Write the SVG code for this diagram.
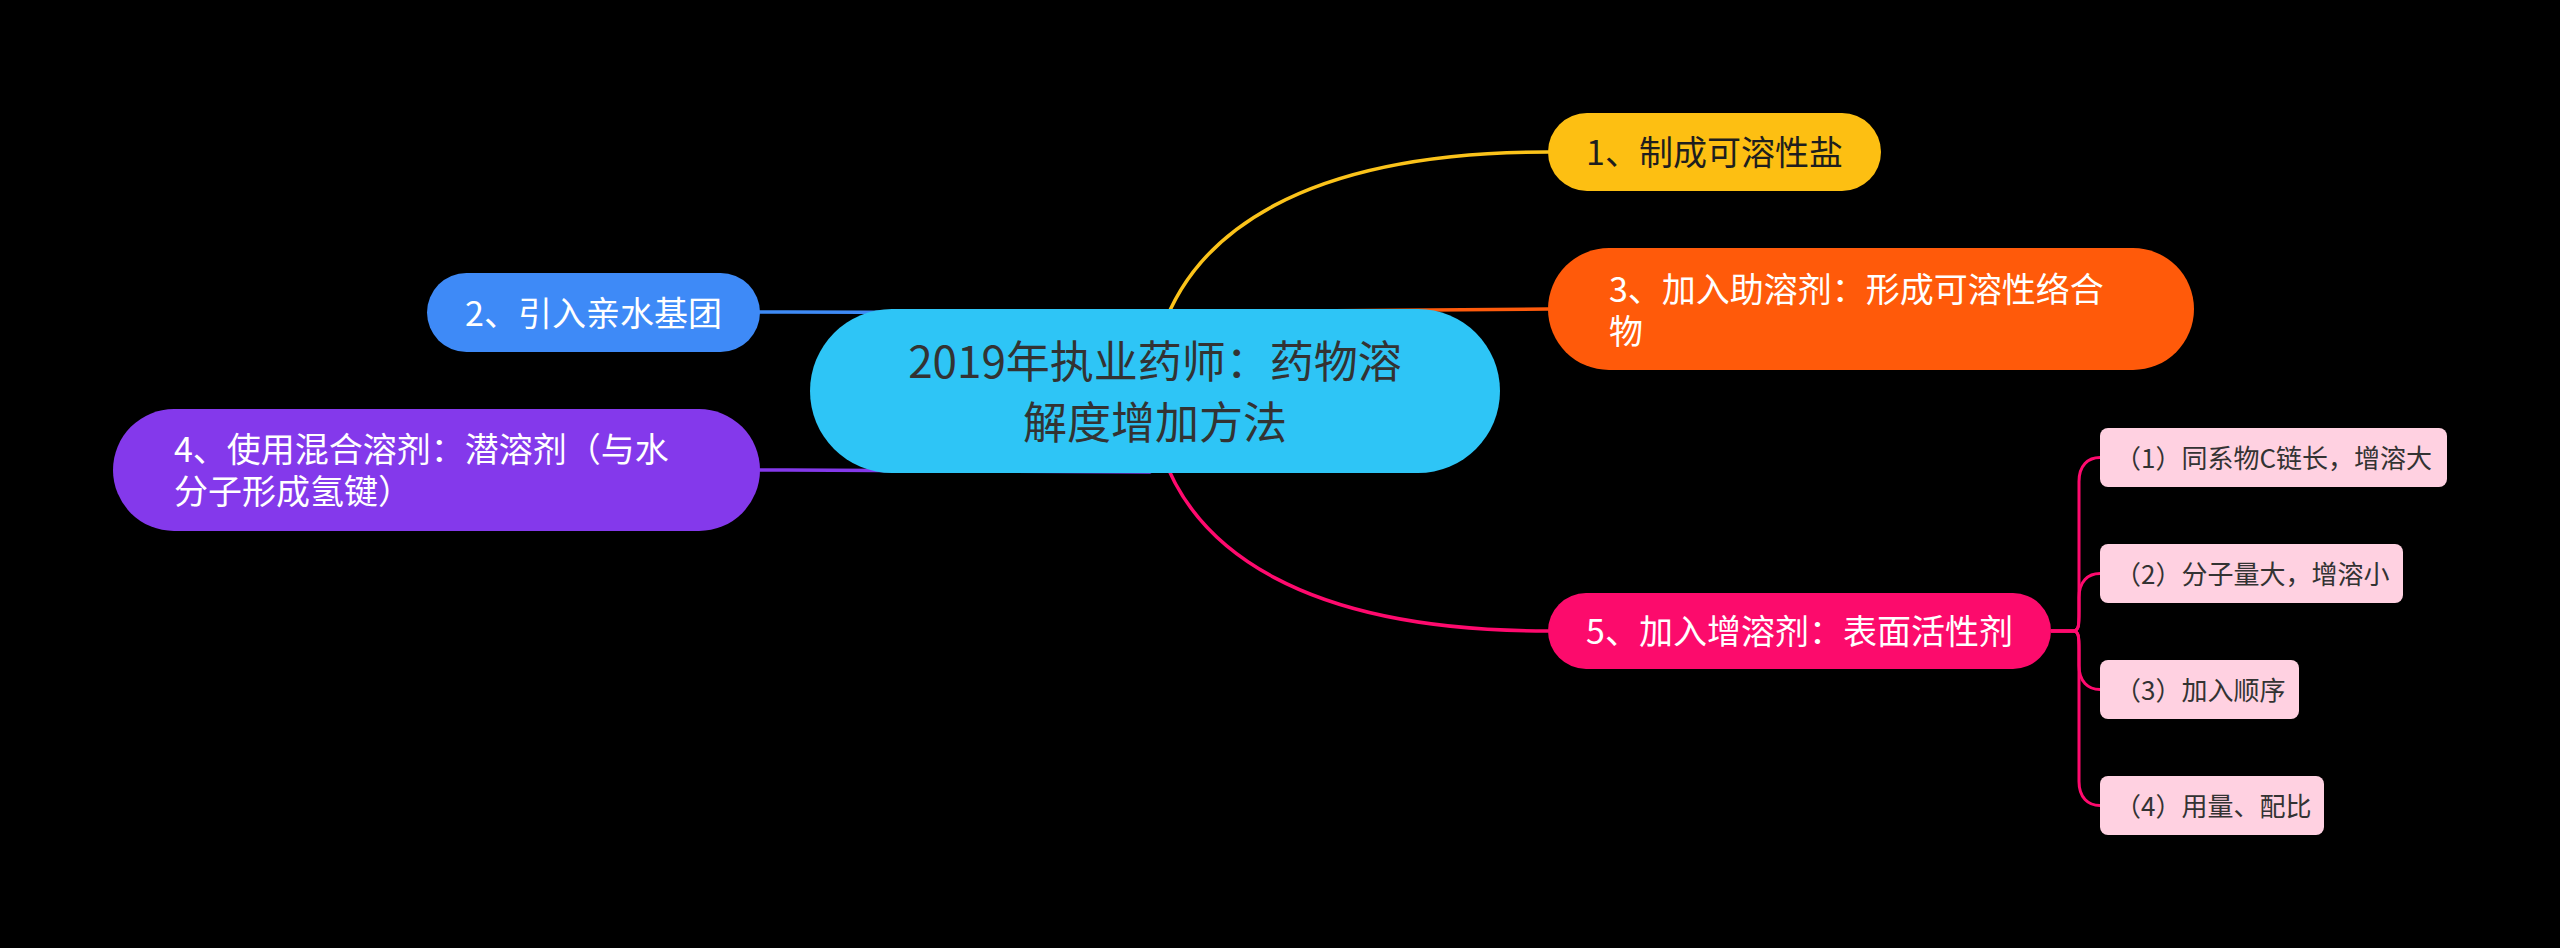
<svg xmlns="http://www.w3.org/2000/svg" width="2560" height="948" viewBox="0 0 2560 948">
<style>
text{font-family:"Noto Sans CJK SC","Microsoft YaHei",sans-serif;}
.c{fill:none;stroke-width:3.5;stroke-linecap:round;}
.s{fill:none;stroke-width:3;stroke:#ff0a6e;}
.t44{font-size:44px;fill:#333333;}
.t34{font-size:34px;}
.t26{font-size:26px;fill:#333333;}
.w{fill:#ffffff;}
.k{fill:#1e1e1e;}
.sub{fill:#ffd1e1;}
</style>
<rect x="0" y="0" width="2560" height="948" fill="#000000"/>
<g id="connectors">
<path class="c" stroke="#fbc31a" d="M 1162 330 C 1195 235, 1300 152, 1548 152"/>
<path class="c" stroke="#ff5b0c" d="M 1165 312 C 1350 311, 1450 309, 1548 309"/>
<path class="c" stroke="#ff0a6e" d="M 1162 453 C 1195 548, 1300 631, 1548 631"/>
<path class="c" stroke="#3e8af6" d="M 1150 313 C 950 313, 860 312, 759 312"/>
<path class="c" stroke="#8439ea" d="M 1150 472 C 950 472, 860 470, 759 470"/>
<path class="s" d="M 2051 631 L 2073 631 C 2079 631, 2079 625, 2079 612 L 2079 481.5 C 2079 465.5, 2088 457.5, 2100 457.5"/>
<path class="s" d="M 2051 631 L 2073 631 C 2079 631, 2079 625, 2079 612 L 2079 597.5 C 2079 581.5, 2088 573.5, 2100 573.5"/>
<path class="s" d="M 2051 631 L 2073 631 C 2079 631, 2079 637, 2079 650 L 2079 665.5 C 2079 681.5, 2088 689.5, 2100 689.5"/>
<path class="s" d="M 2051 631 L 2073 631 C 2079 631, 2079 637, 2079 650 L 2079 781.5 C 2079 797.5, 2088 805.5, 2100 805.5"/>
</g>
<g id="central">
<rect x="810" y="309" width="690" height="164" rx="82" fill="#2ec5f6"/>
<text class="t44" x="1155" y="378" text-anchor="middle">2019年执业药师：药物溶</text>
<text class="t44" x="1155" y="439" text-anchor="middle">解度增加方法</text>
</g>
<g id="n1">
<rect x="1548" y="113" width="333" height="78" rx="39" fill="#fdbf12"/>
<text class="t34 k" x="1714.5" y="165" text-anchor="middle">1、制成可溶性盐</text>
</g>
<g id="n3">
<rect x="1548" y="248" width="646" height="122" rx="61" fill="#ff5a0a"/>
<text class="t34 w" x="1609" y="302">3、加入助溶剂：形成可溶性络合</text>
<text class="t34 w" x="1609" y="344">物</text>
</g>
<g id="n5">
<rect x="1548" y="593" width="503" height="76" rx="38" fill="#fc0b6c"/>
<text class="t34 w" x="1799.5" y="644" text-anchor="middle">5、加入增溶剂：表面活性剂</text>
</g>
<g id="n2">
<rect x="427" y="273" width="333" height="79" rx="39.5" fill="#3e8af7"/>
<text class="t34 w" x="593.5" y="325.5" text-anchor="middle">2、引入亲水基团</text>
</g>
<g id="n4">
<rect x="113" y="409" width="647" height="122" rx="61" fill="#8439eb"/>
<text class="t34 w" x="174" y="462">4、使用混合溶剂：潜溶剂（与水</text>
<text class="t34 w" x="174" y="504">分子形成氢键）</text>
</g>
<g id="s1">
<rect class="sub" x="2100" y="428" width="347" height="59" rx="8"/>
<text class="t26" x="2115" y="467.5">（1）同系物C链长，增溶大</text>
</g>
<g id="s2">
<rect class="sub" x="2100" y="544" width="303" height="59" rx="8"/>
<text class="t26" x="2115" y="583.5">（2）分子量大，增溶小</text>
</g>
<g id="s3">
<rect class="sub" x="2100" y="660" width="199" height="59" rx="8"/>
<text class="t26" x="2115" y="699.5">（3）加入顺序</text>
</g>
<g id="s4">
<rect class="sub" x="2100" y="776" width="224" height="59" rx="8"/>
<text class="t26" x="2115" y="815.5">（4）用量、配比</text>
</g>
</svg>
